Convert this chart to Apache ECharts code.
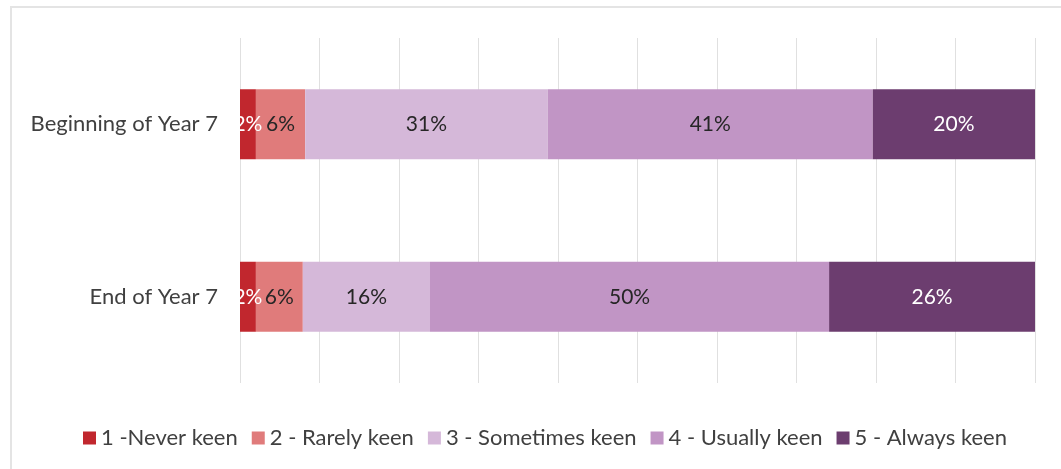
<!DOCTYPE html>
<html>
<head>
<meta charset="utf-8">
<script src="https://cdn.jsdelivr.net/npm/echarts@6/dist/echarts.min.js"></script>
<style>
html,body{margin:0;padding:0;background:#fff;}
#chart{width:1061px;height:469px;}
</style>
</head>
<body>
<div id="chart"></div>
<script>
const categories = ['End of Year 7', 'Beginning of Year 7'];
const seriesNames = ['1 -Never keen', '2 - Rarely keen', '3 - Sometimes keen', '4 - Usually keen', '5 - Always keen'];
const neverKeen = [2.0, 2.0];
const rarelyKeen = [5.9, 6.2];
const sometimesKeen = [16.0, 30.5];
const usuallyKeen = [50.2, 40.9];
const alwaysKeen = [25.9, 20.4];
const colors = ['#C1272E', '#E07B7B', '#D5B8D9', '#C195C5', '#6C3D6F'];
const labelColors = ['#ffffff', '#262626', '#262626', '#262626', '#ffffff'];
const xTicks = [0, 10, 20, 30, 40, 50, 60, 70, 80, 90, 100];

const values = [neverKeen, rarelyKeen, sometimesKeen, usuallyKeen, alwaysKeen];
const font = 'Lato, "Open Sans", sans-serif';

const chart = echarts.init(document.getElementById('chart'), null, {renderer: 'canvas'});
chart.setOption({
  animation: false,
  backgroundColor: '#ffffff',
  graphic: [{
    type: 'rect',
    shape: {x: 11, y: 7, width: 1100, height: 520},
    style: {fill: 'none', stroke: '#e4e4e4', lineWidth: 2},
    silent: true, z: -1
  }],
  grid: {left: 240, right: 26, top: 38, bottom: 86, containLabel: false},
  xAxis: {
    type: 'value', min: xTicks[0], max: xTicks[xTicks.length - 1], interval: 10,
    axisLabel: {show: false}, axisLine: {show: false}, axisTick: {show: false},
    splitLine: {show: true, lineStyle: {color: '#e0e0e0', width: 1}}
  },
  yAxis: {
    type: 'category', data: categories,
    axisLine: {show: false}, axisTick: {show: false},
    axisLabel: {color: '#404040', fontSize: 22, fontFamily: font, margin: 22}
  },
  legend: {
    left: 78, top: 422,
    itemWidth: 13, itemHeight: 13, itemGap: 14,
    icon: 'rect',
    textStyle: {color: '#404040', fontSize: 22, fontFamily: font, padding: [0, 0, 0, 0]},
    data: seriesNames
  },
  series: seriesNames.map((name, i) => ({
    name: name,
    type: 'bar',
    stack: 'total',
    barWidth: 70,
    data: values[i],
    itemStyle: {color: colors[i]},
    label: {
      show: true, position: 'inside',
      color: labelColors[i], fontSize: 21, fontFamily: font,
      formatter: p => Math.round(p.value) + '%'
    }
  }))
});
</script>
</body>
</html>
